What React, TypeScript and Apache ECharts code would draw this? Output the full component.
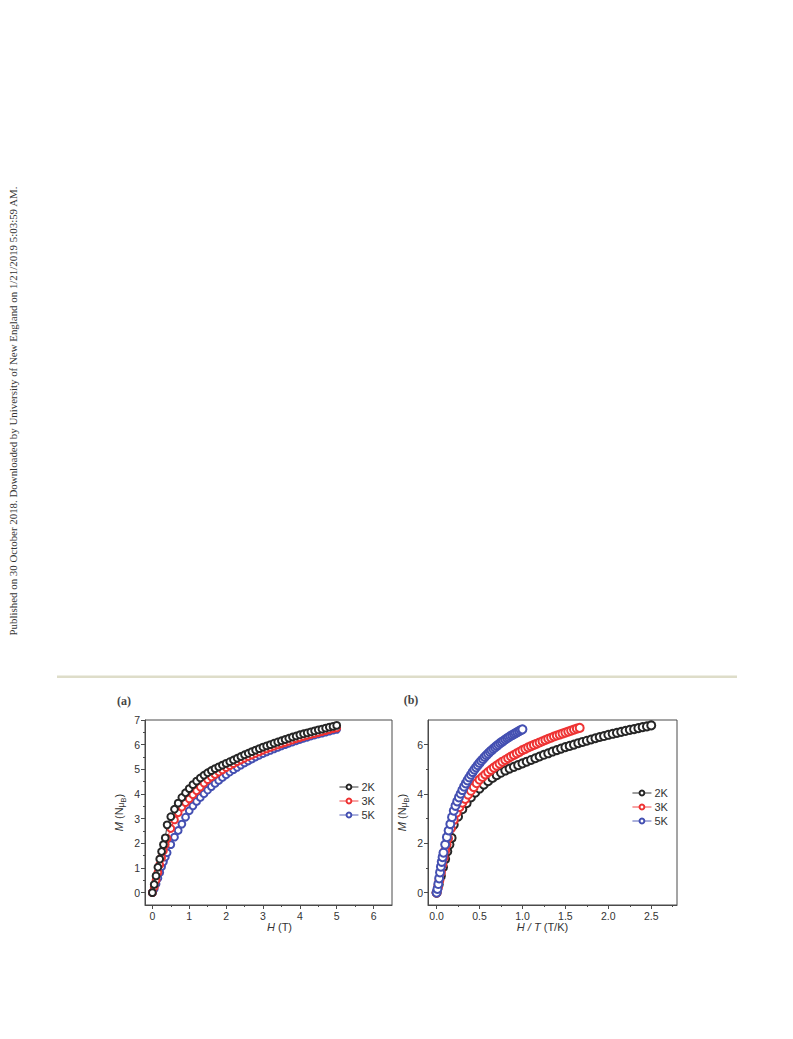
import React, { useEffect, useRef } from "react";
import * as echarts from "echarts";

// Applied field H (T)
const H = [
  0, 0.05, 0.1, 0.15, 0.2, 0.25, 0.3, 0.35,
  0.4, 0.5, 0.6, 0.7, 0.8, 0.9, 1.0,
  1.1, 1.2, 1.3, 1.4, 1.5, 1.6, 1.7, 1.8, 1.9, 2.0,
  2.1, 2.2, 2.3, 2.4, 2.5, 2.6, 2.7, 2.8, 2.9, 3.0,
  3.1, 3.2, 3.3, 3.4, 3.5, 3.6, 3.7, 3.8, 3.9, 4.0,
  4.1, 4.2, 4.3, 4.4, 4.5, 4.6, 4.7, 4.8, 4.9, 5.0,
];

// Magnetisation M (N muB) at each temperature
const M2K = [
  0, 0.33, 0.68, 1.03, 1.36, 1.67, 1.95, 2.22,
  2.75, 3.08, 3.38, 3.63, 3.86, 4.05, 4.22,
  4.38, 4.52, 4.65, 4.76, 4.86, 4.95, 5.03, 5.1, 5.17, 5.24,
  5.31, 5.38, 5.45, 5.52, 5.59, 5.65, 5.72, 5.78, 5.84, 5.9,
  5.95, 6.0, 6.06, 6.11, 6.16, 6.21, 6.26, 6.31, 6.35, 6.4,
  6.44, 6.48, 6.52, 6.56, 6.6, 6.63, 6.67, 6.71, 6.74, 6.78,
];
const M3K = [
  0, 0.22, 0.5, 0.82, 1.13, 1.42, 1.7, 1.95,
  2.2, 2.6, 2.95, 3.24, 3.47, 3.65, 3.8,
  3.97, 4.13, 4.28, 4.44, 4.58, 4.69, 4.79, 4.89, 4.98, 5.07,
  5.15, 5.23, 5.31, 5.38, 5.45, 5.52, 5.58, 5.65, 5.71, 5.78,
  5.83, 5.89, 5.94, 5.99, 6.04, 6.09, 6.14, 6.19, 6.24, 6.28,
  6.33, 6.37, 6.41, 6.45, 6.49, 6.53, 6.57, 6.61, 6.65, 6.68,
];
const M5K = [
  0, 0.15, 0.35, 0.58, 0.82, 1.05, 1.25, 1.44,
  1.62, 1.95, 2.25, 2.52, 2.78, 3.06, 3.32,
  3.52, 3.7, 3.86, 4.01, 4.16, 4.3, 4.43, 4.55, 4.67, 4.78,
  4.89, 4.99, 5.08, 5.17, 5.26, 5.34, 5.42, 5.5, 5.57, 5.64,
  5.71, 5.77, 5.83, 5.89, 5.95, 6.0, 6.06, 6.11, 6.16, 6.21,
  6.26, 6.3, 6.35, 6.39, 6.43, 6.47, 6.51, 6.55, 6.59, 6.62,
];

const TEMPS = [2, 3, 5];
const NAMES = ["2K", "3K", "5K"];
const COLORS = ["#262626", "#ee3333", "#4450b2"];

// Tick labels
const A_X_TICKS = [0, 1, 2, 3, 4, 5, 6];
const A_X_MINOR = [0.5, 1.5, 2.5, 3.5, 4.5, 5.5];
const A_Y_TICKS = [0, 1, 2, 3, 4, 5, 6, 7];
const A_Y_MINOR = [0.5, 1.5, 2.5, 3.5, 4.5, 5.5, 6.5];
const B_X_TICKS = [0, 0.5, 1.0, 1.5, 2.0, 2.5];
const B_X_MINOR = [0.25, 0.75, 1.25, 1.75, 2.25, 2.75];
const B_Y_TICKS = [0, 2, 4, 6];
const B_Y_MINOR = [1, 3, 5];

const SIDEBAR =
  "Published on 30 October 2018. Downloaded by University of New England on 1/21/2019 5:03:59 AM.";

const FONT = "'Liberation Sans', Arial, sans-serif";
const AX = "#4a4a4a";

function mainAxis(gridIndex: number, min: number, max: number, ticks: number[], dec: number, extra: any) {
  return {
    type: "value",
    gridIndex,
    min,
    max,
    axisLine: { onZero: false, lineStyle: { color: AX, width: 1 } },
    axisTick: { customValues: ticks, length: 4, lineStyle: { color: AX } },
    axisLabel: {
      customValues: ticks,
      formatter: (v: number) => v.toFixed(dec),
      fontSize: 10.5,
      color: "#333",
      fontFamily: FONT,
      margin: 5,
    },
    splitLine: { show: false },
    ...extra,
  };
}

function minorAxis(gridIndex: number, min: number, max: number, ticks: number[], extra: any) {
  return {
    type: "value",
    gridIndex,
    min,
    max,
    axisLine: { show: false, onZero: false },
    axisTick: { customValues: ticks, length: 2, lineStyle: { color: AX } },
    axisLabel: { show: false },
    splitLine: { show: false },
    ...extra,
  };
}

const nameStyle = {
  fontSize: 11,
  color: "#333",
  fontFamily: FONT,
  rich: {
    i: { fontStyle: "italic", fontSize: 11, fontFamily: FONT, color: "#333" },
    n: { fontSize: 11, fontFamily: FONT, color: "#333" },
    s: { fontSize: 8.5, fontFamily: FONT, color: "#333", padding: [5, 0, 0, 0] },
    b: { fontSize: 7.5, fontFamily: FONT, color: "#333", padding: [9, 0, 0, 0] },
  },
};

export default function App() {
  const ref = useRef<HTMLDivElement>(null);
  useEffect(() => {
    if (!ref.current) return;
    const chart = echarts.init(ref.current, undefined, { renderer: "svg" });
    const mSeries = [M2K, M3K, M5K];
    const series: any[] = [];
    mSeries.forEach((m, k) => {
      series.push({
        name: NAMES[k],
        type: "line",
        xAxisIndex: 0,
        yAxisIndex: 0,
        data: H.map((h, i) => [h, m[i]]),
        symbol: "emptyCircle",
        symbolSize: 6.8,
        showAllSymbol: true,
        lineStyle: { color: COLORS[k], width: 0.9 },
        itemStyle: { color: COLORS[k], borderColor: COLORS[k], borderWidth: 0.9 },
        z: 10 - k,
      });
    });
    mSeries.forEach((m, k) => {
      series.push({
        name: NAMES[k],
        type: "line",
        xAxisIndex: 2,
        yAxisIndex: 2,
        data: H.map((h, i) => [h / TEMPS[k], m[i]]),
        symbol: "emptyCircle",
        symbolSize: 8,
        showAllSymbol: true,
        lineStyle: { color: COLORS[k], width: 1 },
        itemStyle: { color: COLORS[k], borderColor: COLORS[k], borderWidth: 1.2 },
        z: 5 + k,
      });
    });

    const legendBase = {
      orient: "vertical",
      data: NAMES,
      itemWidth: 19,
      itemHeight: 6,
      itemGap: 2,
      itemStyle: { borderWidth: 0.9 },
      lineStyle: { width: 0.9 },
      textStyle: { fontSize: 11, color: "#333", fontFamily: FONT, lineHeight: 12, padding: [0, 0, 0, -2] },
    };

    chart.setOption({
      animation: false,
      grid: [
        { left: 145, top: 720, width: 247, height: 185, show: true, borderColor: AX, borderWidth: 1 },
        { left: 428, top: 720, width: 249, height: 185, show: true, borderColor: AX, borderWidth: 1 },
      ],
      xAxis: [
        mainAxis(0, -0.2, 6.5, A_X_TICKS, 0, {
          position: "bottom",
          name: "{i|H} {n|(T)}",
          nameLocation: "middle",
          nameGap: 16,
          nameTextStyle: { ...nameStyle, padding: [0, 0, 0, 22] },
        }),
        minorAxis(0, -0.2, 6.5, A_X_MINOR, { position: "bottom" }),
        mainAxis(1, -0.1, 2.8, B_X_TICKS, 1, {
          position: "bottom",
          name: "{i|H / T} {n|(T/K)}",
          nameLocation: "middle",
          nameGap: 16,
          nameTextStyle: { ...nameStyle, padding: [0, 20, 0, 0] },
        }),
        minorAxis(1, -0.1, 2.8, B_X_MINOR, { position: "bottom" }),
      ],
      yAxis: [
        mainAxis(0, -0.5, 7, A_Y_TICKS, 0, {
          position: "left",
          name: "{i|M} {n|(N}{s|μ}{b|B}{n|)}",
          nameLocation: "middle",
          nameRotate: 90,
          nameGap: 18,
          nameTextStyle: { ...nameStyle, padding: [0, 0, 0, 0] },
        }),
        minorAxis(0, -0.5, 7, A_Y_MINOR, { position: "left" }),
        mainAxis(1, -0.5, 7, B_Y_TICKS, 0, {
          position: "left",
          name: "{i|M} {n|(N}{s|μ}{b|B}{n|)}",
          nameLocation: "middle",
          nameRotate: 90,
          nameGap: 18,
          nameTextStyle: { ...nameStyle, padding: [0, 0, 0, 0] },
        }),
        minorAxis(1, -0.5, 7, B_Y_MINOR, { position: "left" }),
      ],
      legend: [
        { ...legendBase, left: 334, top: 776 },
        { ...legendBase, left: 627, top: 782 },
      ],
      graphic: [
        {
          type: "text",
          x: 13,
          y: 411,
          rotation: Math.PI / 2,
          style: {
            text: SIDEBAR,
            fontSize: 10.9,
            fontFamily: "'Liberation Serif', 'Times New Roman', serif",
            fill: "#333",
            align: "center",
            verticalAlign: "middle",
          },
        },
        {
          type: "rect",
          shape: { x: 57, y: 675.5, width: 680, height: 2.5 },
          style: { fill: "#deddc9" },
        },
        {
          type: "text",
          x: 124,
          y: 701,
          style: {
            text: "(a)",
            fontSize: 12,
            fontWeight: "bold",
            fontFamily: "'Liberation Serif', 'Times New Roman', serif",
            fill: "#444",
            align: "center",
            verticalAlign: "middle",
          },
        },
        {
          type: "text",
          x: 411,
          y: 700,
          style: {
            text: "(b)",
            fontSize: 12,
            fontWeight: "bold",
            fontFamily: "'Liberation Serif', 'Times New Roman', serif",
            fill: "#444",
            align: "center",
            verticalAlign: "middle",
          },
        },
      ],
      series,
    });
    return () => chart.dispose();
  }, []);
  return (
    <div
      ref={ref}
      style={{ position: "fixed", left: 0, top: 0, width: 793, height: 1039, background: "#fff" }}
    />
  );
}
